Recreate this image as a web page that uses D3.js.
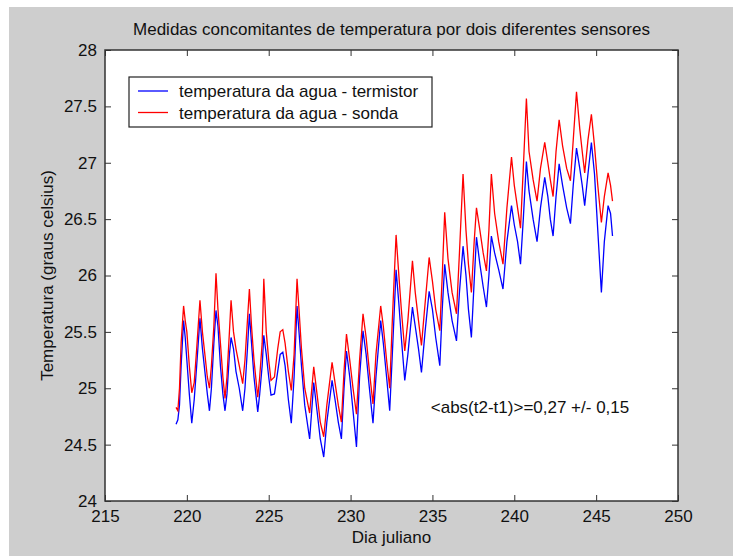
<!DOCTYPE html>
<html>
<head>
<meta charset="utf-8">
<script src="https://cdn.jsdelivr.net/npm/d3@7"></script>
<style>
  html, body { margin: 0; padding: 0; background: #ffffff; }
  svg { display: block; }
  text { font-family: "Liberation Sans", Arial, sans-serif; fill: #111; }
</style>
</head>
<body>
<svg id="chart" width="735" height="556"></svg>
<script>
// ---- data ----
const days = [
  219.34,219.45,219.55,219.65,219.8,219.9,220.0,220.15,220.3,220.45,220.6,220.8,220.95,221.1,221.25,221.38,
  221.5,221.65,221.78,221.9,222.05,222.2,222.33,222.45,222.6,222.7,222.85,223.0,223.2,223.41,223.55,223.7,
  223.82,223.95,224.1,224.33,224.45,224.6,224.7,224.85,225.0,225.14,225.35,225.55,225.7,225.86,226.0,226.2,
  226.38,226.55,226.73,226.85,227.0,227.2,227.5,227.75,227.95,228.15,228.36,228.55,228.87,229.05,229.25,229.44,
  229.6,229.75,229.95,230.15,230.36,230.55,230.76,230.95,231.15,231.37,231.55,231.84,232.0,232.2,232.39,232.55,
  232.78,232.95,233.1,233.31,233.5,233.78,233.95,234.15,234.33,234.55,234.8,235.0,235.2,235.45,235.6,235.75,
  235.95,236.2,236.47,236.65,236.87,237.05,237.2,237.38,237.55,237.69,237.9,238.1,238.3,238.45,238.6,238.8,
  239.05,239.31,239.55,239.83,240.0,240.2,240.38,240.55,240.74,240.9,241.15,241.39,241.6,241.86,242.05,242.2,
  242.37,242.55,242.74,242.95,243.2,243.43,243.6,243.8,244.0,244.15,244.3,244.5,244.71,244.9,245.1,245.32,
  245.5,245.73,245.88,246.0
];
const termistor = [
  24.68,24.72,24.85,25.2,25.6,25.45,25.25,24.95,24.69,24.9,25.2,25.62,25.35,25.15,24.95,24.8,
  25.0,25.4,25.69,25.55,25.2,24.95,24.8,24.95,25.3,25.45,25.35,25.15,25.0,24.8,25.0,25.35,
  25.66,25.4,25.1,24.79,24.95,25.2,25.47,25.3,25.1,24.94,24.95,25.15,25.3,25.32,25.2,24.9,
  24.69,25.1,25.73,25.5,25.2,24.85,24.55,25.05,24.8,24.55,24.39,24.7,25.07,24.9,24.7,24.55,
  25.0,25.33,25.1,24.8,24.48,25.1,25.51,25.3,25.0,24.69,25.1,25.6,25.4,25.1,24.8,25.3,
  26.05,25.75,25.45,25.07,25.3,25.72,25.55,25.35,25.14,25.5,25.86,25.7,25.45,25.2,25.7,26.1,
  25.85,25.6,25.42,25.85,26.26,26.0,25.7,25.45,25.95,26.34,26.1,25.9,25.72,26.0,26.35,26.2,
  26.05,25.88,26.3,26.62,26.45,26.3,26.1,26.5,27.01,26.75,26.5,26.3,26.6,26.87,26.7,26.5,
  26.35,26.7,26.99,26.8,26.6,26.46,26.8,27.13,26.95,26.8,26.62,26.9,27.18,26.9,26.4,25.85,
  26.3,26.62,26.55,26.35
];
const sonda = [
  24.83,24.8,25.0,25.4,25.73,25.6,25.5,25.2,24.96,25.05,25.35,25.78,25.5,25.3,25.1,25.0,
  25.2,25.55,26.02,25.7,25.4,25.1,24.91,25.1,25.5,25.78,25.5,25.35,25.2,25.04,25.25,25.6,
  25.88,25.55,25.25,24.92,25.1,25.4,25.97,25.5,25.25,25.07,25.1,25.35,25.5,25.52,25.4,25.15,
  24.98,25.3,25.97,25.7,25.35,25.0,24.78,25.19,24.95,24.7,24.57,24.85,25.23,25.05,24.85,24.7,
  25.15,25.48,25.25,25.0,24.77,25.25,25.66,25.45,25.15,24.86,25.3,25.73,25.55,25.25,25.0,25.6,
  26.36,26.0,25.7,25.33,25.6,26.13,25.85,25.6,25.38,25.75,26.16,25.95,25.7,25.51,26.0,26.56,
  26.15,25.85,25.66,26.2,26.9,26.4,26.1,25.85,26.3,26.6,26.4,26.2,26.04,26.4,26.9,26.55,
  26.3,26.1,26.6,27.05,26.8,26.6,26.42,26.95,27.57,27.1,26.85,26.66,26.95,27.18,27.0,26.85,
  26.7,27.1,27.38,27.15,26.95,26.84,27.2,27.63,27.3,27.1,26.91,27.2,27.43,27.15,26.8,26.47,
  26.7,26.91,26.8,26.66
];
const xTicks = [215, 220, 225, 230, 235, 240, 245, 250];
const yTicks = [24, 24.5, 25, 25.5, 26, 26.5, 27, 27.5, 28];
const seriesNames = ["temperatura da agua - termistor", "temperatura da agua - sonda"];
const seriesColors = ["#0000ff", "#ff0000"];
const titleText = "Medidas concomitantes de temperatura por dois diferentes sensores";
const xLabelText = "Dia juliano";
const yLabelText = "Temperatura (graus celsius)";
const noteText = "<abs(t2-t1)>=0,27 +/- 0,15";

// ---- layout ----
const svg = d3.select("#chart");
const L = 105, R = 678, T = 50, B = 501;
const fs = 17;

svg.append("rect").attr("x", 9).attr("y", 7).attr("width", 724).attr("height", 549).attr("fill", "#cecece");

const x = d3.scaleLinear().domain([215, 250]).range([L, R]);
const y = d3.scaleLinear().domain([24, 28]).range([B, T]);

svg.append("rect").attr("x", L).attr("y", T).attr("width", R - L).attr("height", B - T).attr("fill", "#ffffff");

svg.append("defs").append("clipPath").attr("id", "clip")
  .append("rect").attr("x", L).attr("y", T).attr("width", R - L).attr("height", B - T);

// data lines
const seriesData = [termistor, sonda];
const line = d3.line().x(d => x(d[0])).y(d => y(d[1]));
const gLines = svg.append("g").attr("clip-path", "url(#clip)");
[0, 1].forEach(i => {
  const pts = days.map((d, k) => [d, seriesData[i][k]]);
  gLines.append("path").datum(pts)
    .attr("fill", "none").attr("stroke", seriesColors[i]).attr("stroke-width", 1.3)
    .attr("stroke-linejoin", "miter").attr("d", line);
});

// axes (box with inward ticks on all sides)
const tickLen = 6;
const axisColor = "#333";
const axB = d3.axisBottom(x).tickValues(xTicks).tickSize(-tickLen).tickPadding(9).tickFormat(d3.format("d"));
const axT = d3.axisTop(x).tickValues(xTicks).tickSize(-tickLen).tickFormat("");
const axL = d3.axisLeft(y).tickValues(yTicks).tickSize(-tickLen).tickPadding(8).tickFormat(d => String(d));
const axR = d3.axisRight(y).tickValues(yTicks).tickSize(-tickLen).tickFormat("");

function styleAxis(g) {
  g.select(".domain").remove();
  g.selectAll(".tick line").attr("stroke", axisColor);
  g.selectAll(".tick text").attr("font-size", fs).attr("font-family", "Liberation Sans, Arial, sans-serif").attr("fill", "#111");
}
svg.append("g").attr("transform", `translate(0,${B})`).call(axB).call(styleAxis);
svg.append("g").attr("transform", `translate(0,${T})`).call(axT).call(styleAxis);
svg.append("g").attr("transform", `translate(${L},0)`).call(axL).call(styleAxis);
svg.append("g").attr("transform", `translate(${R},0)`).call(axR).call(styleAxis);

svg.append("rect").attr("x", L).attr("y", T).attr("width", R - L).attr("height", B - T)
  .attr("fill", "none").attr("stroke", axisColor).attr("stroke-width", 1.5);

// title and labels
svg.append("text").attr("x", (L + R) / 2).attr("y", 35).attr("text-anchor", "middle")
  .attr("font-size", fs).text(titleText);
svg.append("text").attr("x", (L + R) / 2).attr("y", 543).attr("text-anchor", "middle")
  .attr("font-size", fs).text(xLabelText);
svg.append("text").attr("transform", `translate(53,${(T + B) / 2}) rotate(-90)`).attr("text-anchor", "middle")
  .attr("font-size", fs).text(yLabelText);

// annotation
svg.append("text").attr("x", x(234.9)).attr("y", y(24.83) + 6).attr("font-size", fs).text(noteText);

// legend
const lg = svg.append("g");
lg.append("rect").attr("x", 129).attr("y", 77).attr("width", 303).attr("height", 50)
  .attr("fill", "#ffffff").attr("stroke", "#222").attr("stroke-width", 1.2);
seriesNames.forEach((name, i) => {
  const yy = 91 + i * 21.5;
  lg.append("line").attr("x1", 138).attr("x2", 168).attr("y1", yy).attr("y2", yy)
    .attr("stroke", seriesColors[i]).attr("stroke-width", 1.3);
  lg.append("text").attr("x", 179).attr("y", yy + 6).attr("font-size", fs).text(name);
});
</script>
</body>
</html>
